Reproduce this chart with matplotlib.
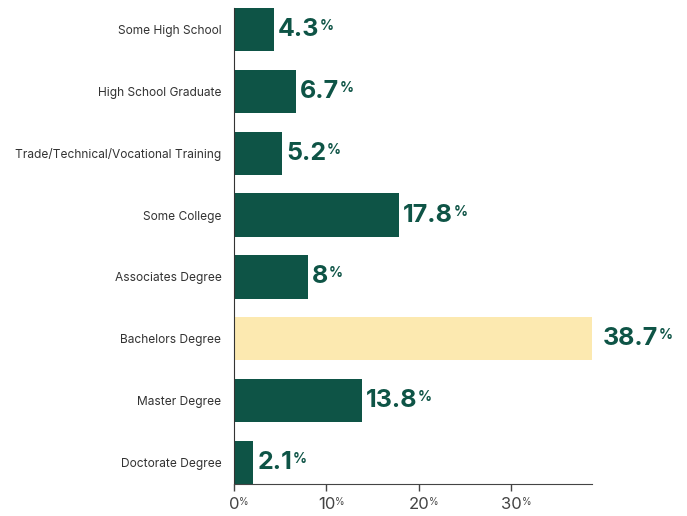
import matplotlib
matplotlib.use("Agg")
import matplotlib.pyplot as plt

categories = ["Some High School", "High School Graduate", "Trade/Technical/Vocational Training",
              "Some College", "Associates Degree", "Bachelors Degree", "Master Degree",
              "Doctorate Degree"]
values = [4.3, 6.7, 5.2, 17.8, 8, 38.7, 13.8, 2.1]
labels = ["4.3", "6.7", "5.2", "17.8", "8", "38.7", "13.8", "2.1"]
highlight = "Bachelors Degree"
ticks = [0, 10, 20, 30]

green = "#0e5446"
yellow = "#fce9b0"

plt.rcParams["font.family"] = ["Inter", "DejaVu Sans"]

fig = plt.figure(figsize=(6.87, 5.16), dpi=100)
ax = fig.add_axes([0.3406, 0.062, 0.521, 0.9225])

colors = [yellow if c == highlight else green for c in categories]
y = list(range(len(categories)))
ax.barh(y, values, height=0.7, color=colors)
ax.set_ylim(len(categories) - 0.65, -0.35)
ax.set_xlim(0, 38.7)

ax.set_yticks(y)
ax.set_yticklabels(categories, fontsize=8.6, color="#333333")
ax.tick_params(axis="y", length=0, pad=9)
ax.set_xticks(ticks)
ax.set_xticklabels([str(t) for t in ticks], fontsize=12, color="#444444")
ax.tick_params(axis="x", length=5, width=1, color="#444444", pad=4)

for s in ["top", "right"]:
    ax.spines[s].set_visible(False)
ax.spines["left"].set_color("#333333")
ax.spines["bottom"].set_color("#444444")

fig.canvas.draw()
r = fig.canvas.get_renderer()
inv = fig.transFigure.inverted()

# value labels with superscript %
for yi, v, lab, c in zip(y, values, labels, categories):
    xoff = 3 if c != highlight else 8
    t = ax.annotate(lab, (v, yi), xytext=(xoff, 0), textcoords="offset points",
                    ha="left", va="center", fontsize=18, fontweight="bold",
                    color=green, annotation_clip=False)
    bb = t.get_window_extent(r)
    x1, y1 = inv.transform((bb.x1, bb.y1))
    fig.text(x1 + 0.001, y1 - 0.002, "%", fontsize=10, fontweight="bold",
             color=green, ha="left", va="top")

# superscript % on tick labels
for tl in ax.get_xticklabels():
    bb = tl.get_window_extent(r)
    x1, y1 = inv.transform((bb.x1, bb.y1))
    fig.text(x1, y1 - 0.001, "%", fontsize=7, color="#444444",
             ha="left", va="top")

fig.savefig("out.png", dpi=100)
